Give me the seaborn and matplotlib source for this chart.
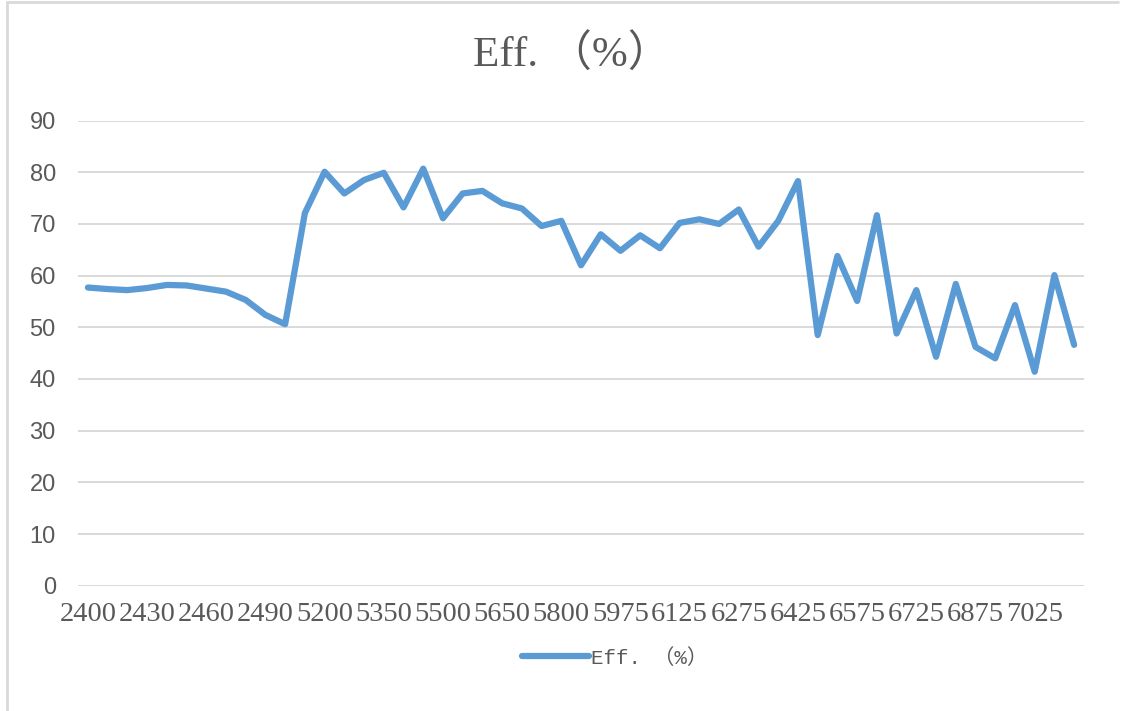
import matplotlib
matplotlib.use('Agg')
import matplotlib.pyplot as plt
import seaborn as sns
import numpy as np
from matplotlib.lines import Line2D

# Frequency (MHz) categories and efficiency values.
freq = [2400, 2410, 2420, 2430, 2440, 2450, 2460, 2470, 2480, 2490, 2500,
        5150, 5200, 5250, 5300, 5350, 5400, 5450, 5500, 5550, 5600, 5650,
        5700, 5750, 5800, 5850, 5925, 5975, 6025, 6075, 6125, 6175, 6225,
        6275, 6325, 6375, 6425, 6475, 6525, 6575, 6625, 6675, 6725, 6775,
        6825, 6875, 6925, 6975, 7025, 7075, 7125]
eff = [57.7, 57.4, 57.2, 57.6, 58.2, 58.1, 57.5, 56.9, 55.3, 52.4, 50.6,
       72.1, 80.1, 75.9, 78.5, 79.9, 73.2, 80.7, 71.1, 75.9, 76.4, 74.0,
       73.0, 69.6, 70.6, 62.0, 68.0, 64.8, 67.8, 65.3, 70.2, 70.9, 70.0,
       72.8, 65.6, 70.6, 78.3, 48.5, 63.8, 55.1, 71.7, 48.8, 57.2, 44.3,
       58.4, 46.2, 44.0, 54.3, 41.4, 60.1, 46.6]
yticks = [0, 10, 20, 30, 40, 50, 60, 70, 80, 90]
series_name = 'Eff. （%）'

sns.set_style('white')
plt.rcParams['font.family'] = ['Liberation Serif', 'Noto Sans CJK SC']
text_color = '#595959'
line_color = '#5B9BD5'

fig = plt.figure(figsize=(11.26, 7.11), dpi=100)
ax = fig.add_axes([0.0693, 0.1762, 0.8934, 0.6542])

pos = np.arange(len(freq))
sns.lineplot(x=pos, y=eff, ax=ax, color=line_color, linewidth=4.5,
             solid_joinstyle='round', solid_capstyle='round', legend=False)

ax.set_xlim(-0.5, len(freq) - 0.5)
ax.set_ylim(0, 90)
ax.set_yticks(yticks)
ax.set_yticklabels([str(v) for v in yticks], family='Liberation Sans',
                   fontsize=17, color=text_color)
ax.set_xticks(pos[::3])
ax.set_xticklabels([str(f) for f in freq[::3]], fontsize=20.5, color=text_color)
ax.tick_params(axis='x', length=0, pad=12)
ax.tick_params(axis='y', length=0, pad=16)
ax.yaxis.grid(True, color='#D9D9D9', linewidth=1.4)
ax.xaxis.grid(False)
for s in ax.spines.values():
    s.set_visible(False)

fig.text(0.508, 0.922, series_name, ha='center', va='center', fontsize=31,
         color=text_color)

handle = Line2D([0], [0], color=line_color, linewidth=4.5, solid_capstyle='round')
fig.legend([handle], [series_name], loc='center', bbox_to_anchor=(0.546, 0.075),
           frameon=False, handlelength=3.2, handletextpad=0.1,
           prop={'family': ['Liberation Mono', 'Noto Sans CJK SC'], 'size': 15},
           labelcolor=text_color)

# partial chart-area frame (left and top edges visible in the reference)
fig.add_artist(Line2D([7 / 1126, 7 / 1126], [0, 1 - 2 / 711], color='#D9D9D9',
                      linewidth=2, transform=fig.transFigure))
fig.add_artist(Line2D([7 / 1126, 1118 / 1126], [1 - 2 / 711, 1 - 2 / 711],
                      color='#D9D9D9', linewidth=2, transform=fig.transFigure))

fig.savefig('out.png', dpi=100)
